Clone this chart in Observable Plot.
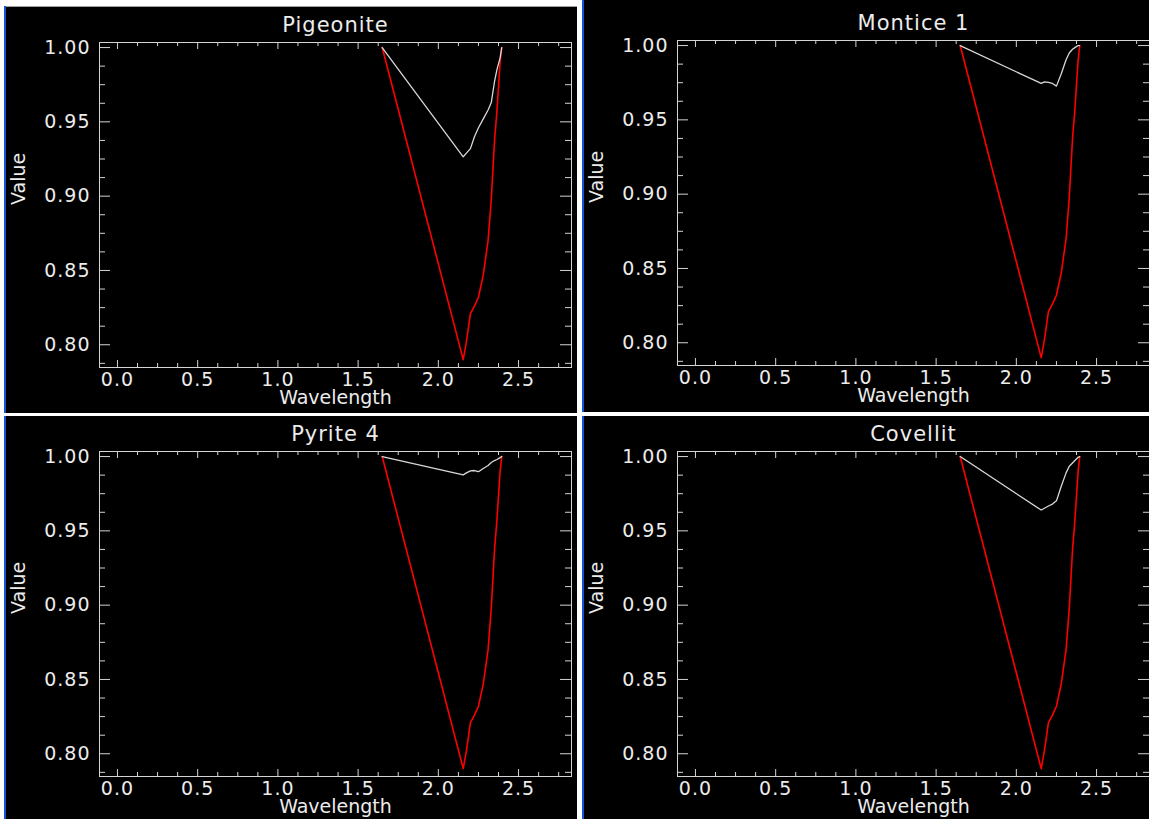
<!DOCTYPE html>
<html>
<head>
<meta charset="utf-8">
<script src="https://cdn.jsdelivr.net/npm/d3@7"></script>
<script src="https://cdn.jsdelivr.net/npm/@observablehq/plot@0.6"></script>
<style>
  html, body { margin: 0; padding: 0; background: #ffffff; width: 1149px; height: 819px; overflow: hidden; position: relative; }
  .bg { position: absolute; background: #000000; }
  .blue { position: absolute; background: #1456d8; }
  .holder { position: absolute; width: 572px; height: 404px; }
  .holder svg { display: block; }
</style>
</head>
<body>
<div class="bg" style="left:6px;top:6px;width:571px;height:406px;border-top:1px solid #a0a0a0;"></div>
<div class="blue" style="left:4px;top:6px;width:2px;height:407px;"></div>
<div class="bg" style="left:584px;top:0px;width:565px;height:412px;"></div>
<div class="blue" style="left:582px;top:0px;width:2px;height:412px;"></div>
<div class="bg" style="left:6px;top:416px;width:571px;height:403px;"></div>
<div class="blue" style="left:4px;top:416px;width:2px;height:403px;"></div>
<div class="bg" style="left:584px;top:416px;width:565px;height:403px;"></div>
<div class="blue" style="left:582px;top:416px;width:2px;height:403px;"></div>

<div class="holder" id="p1" style="left:6px;top:6px;"></div>
<div class="holder" id="p2" style="left:584px;top:4px;"></div>
<div class="holder" id="p3" style="left:6px;top:415px;"></div>
<div class="holder" id="p4" style="left:584px;top:415px;"></div>

<script>
// ---- data ----
const titles = ["Pigeonite", "Montice 1", "Pyrite 4", "Covellit"];
const wavelengths = [1.65, 2.155, 2.175, 2.20, 2.225, 2.25, 2.28, 2.31, 2.33, 2.35, 2.365, 2.385, 2.395];
const referenceCurve = [1.000, 0.790, 0.802, 0.821, 0.826, 0.832, 0.847, 0.870, 0.898, 0.937, 0.957, 0.990, 1.000];
const pigeonite = [1.000, 0.9265, 0.929, 0.932, 0.940, 0.946, 0.952, 0.958, 0.963, 0.977, 0.985, 0.993, 1.000];
const montice1  = [1.000, 0.9745, 0.9755, 0.9752, 0.9745, 0.9727, 0.981, 0.9905, 0.995, 0.9975, 0.9986, 1.000, 1.000];
const pyrite4   = [1.000, 0.9877, 0.989, 0.9904, 0.9906, 0.9898, 0.992, 0.994, 0.996, 0.9973, 0.998, 0.9993, 1.000];
const covellit  = [1.000, 0.964, 0.9652, 0.9667, 0.968, 0.9702, 0.980, 0.989, 0.9935, 0.9957, 0.9973, 0.9995, 1.000];
const seriesList = [pigeonite, montice1, pyrite4, covellit];

const xMajorTicks = [0.0, 0.5, 1.0, 1.5, 2.0, 2.5];
const xMinorTicks = [0.125, 0.25, 0.375, 0.625, 0.75, 0.875, 1.125, 1.25, 1.375, 1.625, 1.75, 1.875, 2.125, 2.25, 2.375, 2.625, 2.75];
const yMajorTicks = [0.80, 0.85, 0.90, 0.95, 1.00];
const yMinorTicks = [0.7875, 0.8125, 0.825, 0.8375, 0.8625, 0.875, 0.8875, 0.9125, 0.925, 0.9375, 0.9625, 0.975, 0.9875];
const xDomain = [-0.112, 2.830];
const yDomain = [0.7847, 1.0034];

// ---- styles ----
const FRAME = "#d4d4d4";
const TEXT = "#ececec";
const WHITE_LINE = "#d8d8d8";
const RED_LINE = "#ff0000";
const W = 572, H = 404, ML = 93, MR = 7, MT = 36, MB = 43;
const innerW = W - ML - MR, innerH = H - MT - MB;

function panel(title, values) {
  const rows = wavelengths.map((w, i) => ({w, v: values[i]}));
  const ref = wavelengths.map((w, i) => ({w, v: referenceCurve[i]}));
  const svg = Plot.plot({
    width: W, height: H,
    marginLeft: ML, marginRight: MR, marginTop: MT, marginBottom: MB,
    style: {background: "transparent", color: TEXT, fontFamily: "DejaVu Sans, sans-serif", fontSize: "19px"},
    x: {domain: xDomain, axis: null},
    y: {domain: yDomain, axis: null},
    marks: [
      Plot.ruleX(xMajorTicks, {x: d => d, stroke: FRAME, insetTop: innerH - 7}),
      Plot.ruleX(xMajorTicks, {x: d => d, stroke: FRAME, insetBottom: innerH - 7}),
      Plot.ruleX(xMinorTicks, {x: d => d, stroke: FRAME, insetTop: innerH - 4}),
      Plot.ruleX(xMinorTicks, {x: d => d, stroke: FRAME, insetBottom: innerH - 4}),
      Plot.ruleY(yMajorTicks, {y: d => d, stroke: FRAME, insetRight: innerW - 11}),
      Plot.ruleY(yMajorTicks, {y: d => d, stroke: FRAME, insetLeft: innerW - 11}),
      Plot.ruleY(yMinorTicks, {y: d => d, stroke: FRAME, insetRight: innerW - 6}),
      Plot.ruleY(yMinorTicks, {y: d => d, stroke: FRAME, insetLeft: innerW - 6}),
      Plot.frame({stroke: FRAME}),
      Plot.axisX(xMajorTicks, {anchor: "bottom", tickSize: 0, tickPadding: 5, tickFormat: d3.format(".1f"), label: null, fill: TEXT}),
      Plot.axisY(yMajorTicks, {anchor: "left", tickSize: 0, tickPadding: 9, tickFormat: d3.format(".2f"), label: null, fill: TEXT}),
      Plot.line(ref, {x: "w", y: "v", stroke: RED_LINE, strokeWidth: 1.6}),
      Plot.line(rows, {x: "w", y: "v", stroke: WHITE_LINE, strokeWidth: 1.3}),
      Plot.text([title], {frameAnchor: "top", lineAnchor: "middle", dy: -17, fontSize: 21, fill: TEXT}),
      Plot.text(["Wavelength"], {frameAnchor: "bottom", lineAnchor: "middle", dy: 30, fill: TEXT}),
      Plot.text(["Value"], {frameAnchor: "left", lineAnchor: "middle", dx: -80.5, rotate: -90, fill: TEXT})
    ]
  });
  const s = d3.select(svg);
  s.selectAll("g[aria-label='x-axis tick label'] text, g[aria-label='y-axis tick label'] text").attr("letter-spacing", "1px");
  s.selectAll("g[aria-label='text'] text").filter(function () { return this.textContent === title; }).attr("letter-spacing", "1px");
  return svg;
}

["p1", "p2", "p3", "p4"].forEach((id, i) => {
  document.getElementById(id).appendChild(panel(titles[i], seriesList[i]));
});
</script>
</body>
</html>
